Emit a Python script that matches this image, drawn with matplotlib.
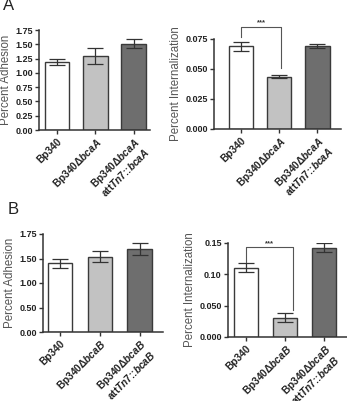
import matplotlib
matplotlib.use("Agg")
import matplotlib.pyplot as plt
import numpy as np

plt.rcParams['font.family'] = ['Liberation Sans', 'DejaVu Sans']
plt.rcParams['mathtext.fontset'] = 'custom'
plt.rcParams['mathtext.it'] = 'Liberation Sans:italic:bold'
plt.rcParams['mathtext.rm'] = 'Liberation Sans:bold'
plt.rcParams['mathtext.bf'] = 'Liberation Sans:bold'

# ---- data ----
labels_A = ["Bp340", "Bp340Δ$\\it{bcaA}$", "Bp340Δ$\\it{bcaA}$\natt$\\it{Tn7}$::$\\it{bcaA}$"]
labels_B = ["Bp340", "Bp340Δ$\\it{bcaB}$", "Bp340Δ$\\it{bcaB}$\natt$\\it{Tn7}$::$\\it{bcaB}$"]

adh_A = [1.19, 1.30, 1.51]
adh_A_err = [0.05, 0.14, 0.08]
int_A = [0.0690, 0.0435, 0.0690]
int_A_err = [0.0036, 0.0014, 0.0018]

adh_B = [1.40, 1.54, 1.70]
adh_B_err = [0.09, 0.11, 0.12]
int_B = [0.1106, 0.031, 0.1426]
int_B_err = [0.0068, 0.0072, 0.0072]

bar_colors = ['#ffffff', '#c2c2c2', '#6e6e6e']
edge = '#3a3a3a'

fig = plt.figure(figsize=(3.47, 4.01), dpi=100)

def panel(rect, vals, errs, labels, ylim, yticks, yticklabels, ylabel, xlim, width):
    ax = fig.add_axes(rect)
    x = np.arange(len(vals))
    ax.bar(x, vals, width=width, color=bar_colors, edgecolor=edge, linewidth=1.0, zorder=2)
    ax.errorbar(x, vals, yerr=errs, fmt='none', ecolor='#333333', elinewidth=0.9,
                capsize=5.5, capthick=0.9, zorder=3)
    ax.set_xlim(*xlim)
    ax.set_ylim(*ylim)
    ax.set_yticks(yticks)
    ax.set_yticklabels(yticklabels, fontsize=6.5, fontweight='bold', color='#222222')
    ax.set_xticks(x)
    ax.set_xticklabels(labels, rotation=45, ha='right', rotation_mode='anchor',
                       fontsize=7.3, fontweight='bold', color='#222222', linespacing=1.0)
    ax.set_ylabel(ylabel, fontsize=8.3, color='#555555', labelpad=2)
    for s in ['top', 'right']:
        ax.spines[s].set_visible(False)
    for s in ['left', 'bottom']:
        ax.spines[s].set_color('#333333')
        ax.spines[s].set_linewidth(1.1)
    ax.tick_params(axis='both', length=3, width=1.0, color='#333333', pad=1.5)
    return ax

axA1 = panel([39/347, 1-130/401, 111/347, 100/401], adh_A, adh_A_err, labels_A,
             (0, 1.75), [0, 0.25, 0.5, 0.75, 1.0, 1.25, 1.5, 1.75],
             ['0.00', '0.25', '0.50', '0.75', '1.00', '1.25', '1.50', '1.75'],
             'Percent Adhesion', (-0.47, 2.43), 0.65)

axA2 = panel([214/347, 1-129/401, 127/347, 90/401], int_A, int_A_err, labels_A,
             (0, 0.075), [0, 0.025, 0.05, 0.075],
             ['0.000', '0.025', '0.050', '0.075'],
             'Percent Internalization', (-0.71, 2.62), 0.64)

axB1 = panel([43/347, 1-332/401, 120/347, 98/401], adh_B, adh_B_err, labels_B,
             (0, 2.0), [0, 0.5, 1.0, 1.5, 2.0],
             ['0.00', '0.50', '1.00', '1.50', '1.75'],
             'Percent Adhesion', (-0.43, 2.59), 0.61)

axB2 = panel([228/347, 1-337/401, 119/347, 94/401], int_B, int_B_err, labels_B,
             (0, 0.15), [0, 0.05, 0.10, 0.15],
             ['0.000', '0.050', '0.10', '0.15'],
             'Percent Internalization', (-0.46, 2.59), 0.62)

def bracket(ax, x1, x2, y1, y2, top, text_y):
    ax.plot([x1, x1, x2, x2], [y1, top, top, y2], color='#555555', lw=0.8,
            clip_on=False, zorder=4)
    ax.text((x1 + x2) / 2, text_y, '***', ha='center', va='center', fontsize=5.5,
            fontweight='bold', color='#333333', clip_on=False)

bracket(axA2, 0, 1.05, 0.0764, 0.0507, 0.085, 0.0885)
bracket(axB2, 0, 1.2, 0.1197, 0.0426, 0.1436, 0.1495)

fig.text(3/347, 1-6/401, 'A', fontsize=12, ha='left', va='center', color='#222222')
fig.text(8/347, 1-210/401, 'B', fontsize=12, ha='left', va='center', color='#222222')

fig.savefig('out.png', dpi=100)
